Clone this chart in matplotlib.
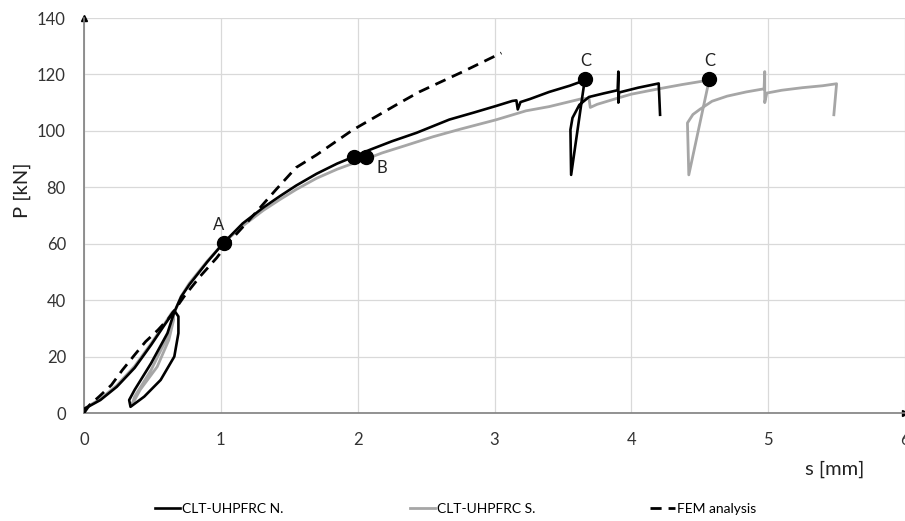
import matplotlib
matplotlib.use("Agg")
import matplotlib.pyplot as plt

plt.rcParams["font.family"] = ["Lato", "DejaVu Sans"]

# --- load-slip data, s [mm] vs P [kN] ---
# specimen N (black)
n_s = [0.00, 0.03, 0.12, 0.24, 0.37, 0.49, 0.58, 0.66,
       0.69, 0.69, 0.66, 0.56, 0.44, 0.34,
       0.33, 0.37, 0.49, 0.61, 0.66,
       0.71, 0.77, 0.90, 1.02,
       1.16, 1.31, 1.43, 1.55, 1.70, 1.85, 1.97,
       2.09, 2.25, 2.43, 2.67, 2.85, 3.01,
       3.13, 3.16, 3.17, 3.19, 3.26, 3.40, 3.55, 3.63, 3.66,
       3.56, 3.555, 3.57, 3.62, 3.69, 3.80, 3.90,
       3.905, 3.905, 3.91, 4.05, 4.20, 4.21]
n_p = [1.5, 2.2, 4.6, 9.3, 16.0, 24.1, 30.6, 36.3,
       34.2, 28.3, 20.0, 11.7, 5.8, 2.2,
       4.6, 8.2, 17.6, 28.3, 35.8,
       41.2, 45.5, 53.5, 60.3,
       67.2, 72.8, 76.8, 80.6, 84.8, 88.4, 90.8,
       93.3, 96.3, 99.3, 104.0, 106.5, 108.8,
       110.6, 110.8, 107.6, 110.2, 111.3, 113.8, 116.0, 117.4, 118.3,
       84.4, 100.4, 104.6, 109.2, 112.0, 113.3, 114.4,
       121.0, 110.0, 113.6, 115.3, 116.8, 105.7]

# specimen S (grey)
s_s = [0.00, 0.03, 0.12, 0.24, 0.37, 0.49, 0.58, 0.645,
       0.655, 0.62, 0.535, 0.41, 0.35,
       0.37, 0.49, 0.61, 0.66,
       0.71, 0.77, 0.90, 1.02,
       1.16, 1.31, 1.43, 1.55, 1.70, 1.85, 1.94,
       2.06, 2.18, 2.35, 2.55, 2.75, 3.01, 3.23, 3.40,
       3.63, 3.69, 3.70, 3.75, 3.90, 4.00, 4.20, 4.37, 4.52, 4.57,
       4.42, 4.41, 4.45, 4.50, 4.59, 4.70, 4.84, 4.97,
       4.975, 4.975, 4.99, 5.10, 5.25, 5.40, 5.50, 5.48]
s_p = [1.5, 2.4, 5.0, 9.8, 16.6, 24.6, 31.0, 35.8,
       33.0, 25.9, 16.4, 8.2, 2.8,
       5.8, 15.2, 27.0, 35.5,
       41.4, 46.0, 53.8, 60.3,
       66.3, 71.8, 75.6, 79.2, 83.2, 86.4, 88.0,
       90.0, 92.2, 94.8, 97.9, 100.6, 103.9, 107.1, 108.6,
       111.3, 111.6, 108.3, 109.4, 111.6, 113.0, 114.9, 116.4, 117.6, 118.3,
       84.4, 102.8, 105.8, 107.6, 110.5, 112.3, 113.8, 114.9,
       121.0, 110.0, 113.4, 114.4, 115.3, 116.0, 116.7, 105.7]

# FEM prediction
f_s = [0.00, 0.04, 0.11, 0.20, 0.28, 0.37, 0.45, 0.54, 0.62, 0.68, 0.73,
       0.85, 0.97, 1.04, 1.20, 1.40, 1.55, 1.70, 1.96, 2.31, 2.45, 2.65,
       2.77, 3.05]
f_p = [0.0, 2.8, 5.8, 9.9, 15.2, 20.6, 25.3, 29.4, 33.6, 37.7, 41.2,
       48.5, 55.0, 59.5, 68.0, 79.0, 87.0, 91.5, 100.2, 110.0, 113.8, 118.3,
       121.0, 127.6]

# characteristic points A, B, C
pt_s = [1.02, 1.97, 2.06, 3.66, 4.57]
pt_p = [60.3, 90.8, 90.8, 118.5, 118.5]
lbl_text = ["A", "B", "C", "C"]
lbl_s = [0.98, 2.18, 3.67, 4.57]
lbl_p = [66.5, 87.0, 124.8, 124.8]

fig = plt.figure(figsize=(9.05, 5.21), dpi=100)
ax = fig.add_axes([84 / 905, 1 - 413 / 521, 1 - 84 / 905, (413 - 18) / 521])

l_s, = ax.plot(s_s, s_p, color="#a6a6a6", lw=2.0, zorder=3)
l_n, = ax.plot(n_s, n_p, color="black", lw=1.9, zorder=4)
l_f, = ax.plot(f_s, f_p, color="black", lw=2.0, ls=(0, (4, 2.5)), zorder=5)
ax.plot(pt_s, pt_p, "o", color="black", ms=10, zorder=6)
for t, x, y in zip(lbl_text, lbl_s, lbl_p):
    ax.text(x, y, t, ha="center", va="center", fontsize=12, color="#222222")

ax.set_xlim(0, 6)
ax.set_ylim(0, 140)
ax.set_xticks(range(0, 7))
ax.set_yticks(range(0, 141, 20))
ax.grid(True, color="#d9d9d9", lw=0.9)
ax.set_axisbelow(True)
ax.tick_params(length=0, labelsize=12, colors="#333333")
ax.tick_params(axis="y", pad=13)
ax.tick_params(axis="x", pad=14)
for side in ("top", "right"):
    ax.spines[side].set_visible(False)
for side in ("left", "bottom"):
    ax.spines[side].set_color("#7f7f7f")
    ax.spines[side].set_linewidth(1.2)

# arrow heads at the end of both axes
ax.plot([1.0], [0], marker=">", color="black", ms=5, transform=ax.transAxes, clip_on=False)
ax.plot([0], [1.0], marker="^", color="black", ms=5, transform=ax.transAxes, clip_on=False)

fig.text(22 / 905, 1 - 190 / 521, "P [kN]", rotation=90, ha="center", va="center",
         fontsize=14.5, color="#222222")
fig.text(835 / 905, 1 - 469 / 521, "s [mm]", ha="center", va="center",
         fontsize=14.5, color="#222222")

# legend entries placed one by one along the bottom
entries = [(l_n, "CLT-UHPFRC N.", 155), (l_s, "CLT-UHPFRC S.", 410), (l_f, "FEM analysis", 650)]
for h, txt, x0 in entries:
    fig.legend([h], [txt], loc="center left", bbox_to_anchor=((x0 - 6) / 905, 1 - 509 / 521),
               frameon=False, fontsize=10, handlelength=1.8, handletextpad=0.15,
               borderaxespad=0)

fig.savefig("out.png", dpi=100)
